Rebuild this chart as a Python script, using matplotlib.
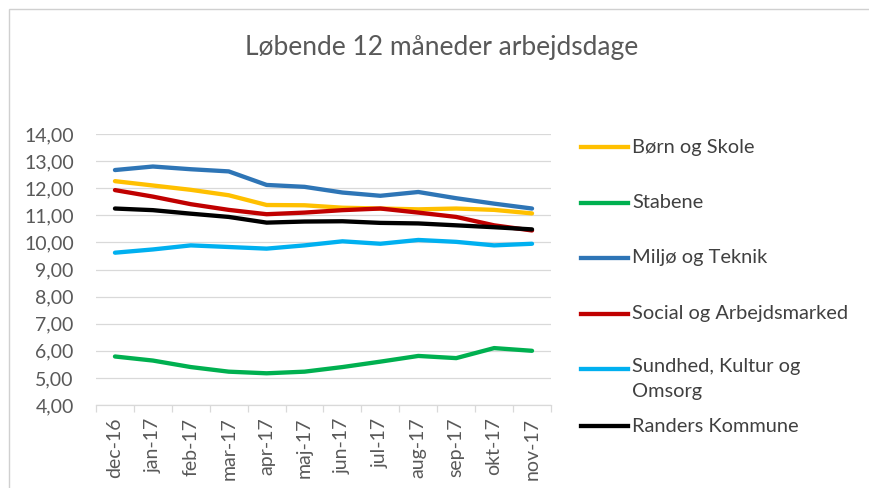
import matplotlib.pyplot as plt
import numpy as np
from matplotlib.lines import Line2D
from matplotlib.ticker import FuncFormatter

plt.rcParams['font.family'] = ['Lato', 'DejaVu Sans']

months = ['dec-16', 'jan-17', 'feb-17', 'mar-17', 'apr-17', 'maj-17',
          'jun-17', 'jul-17', 'aug-17', 'sep-17', 'okt-17', 'nov-17']

boern_skole = [12.26, 12.10, 11.94, 11.74, 11.38, 11.37, 11.28, 11.25, 11.22, 11.25, 11.20, 11.07]
stabene = [5.79, 5.64, 5.40, 5.23, 5.17, 5.23, 5.40, 5.60, 5.81, 5.73, 6.10, 6.00]
miljoe_teknik = [12.67, 12.80, 12.70, 12.62, 12.12, 12.05, 11.84, 11.72, 11.86, 11.63, 11.43, 11.25]
social_arbejd = [11.93, 11.69, 11.41, 11.20, 11.04, 11.10, 11.19, 11.25, 11.10, 10.94, 10.63, 10.44]
sundhed = [9.62, 9.74, 9.89, 9.83, 9.77, 9.89, 10.04, 9.95, 10.09, 10.02, 9.89, 9.95]
randers = [11.25, 11.19, 11.06, 10.94, 10.73, 10.77, 10.78, 10.72, 10.70, 10.63, 10.56, 10.48]

series = [
    ('Børn og Skole', boern_skole, '#FFC000'),
    ('Stabene', stabene, '#00B050'),
    ('Miljø og Teknik', miljoe_teknik, '#2E75B6'),
    ('Social og Arbejdsmarked', social_arbejd, '#C00000'),
    ('Sundhed, Kultur og\nOmsorg', sundhed, '#00B0F0'),
    ('Randers Kommune', randers, '#000000'),
]

text_col = '#595959'
grid_col = '#D9D9D9'

fig = plt.figure(figsize=(8.7, 4.88), dpi=100)
W, H = 870, 488

# chart frame (Excel chart border)
frame = plt.Rectangle((9 / W, -0.1), 1.2, (H - 9) / H + 0.1, transform=fig.transFigure,
                      facecolor='white', edgecolor='#D0D0D0', linewidth=1.0, zorder=-1)
fig.patches.append(frame)

ax = fig.add_axes([96 / W, (H - 405) / H, 455 / W, 271 / H])
ax.patch.set_alpha(0)
x = np.arange(len(months))
for name, vals, col in series:
    ax.plot(x, vals, color=col, linewidth=3.1, solid_capstyle='round', solid_joinstyle='round')

ax.set_xlim(-0.5, len(months) - 0.5)
ax.set_ylim(4, 14)
ax.set_yticks(np.arange(4, 14.01, 1))
ax.yaxis.set_major_formatter(FuncFormatter(lambda v, p: f'{v:.2f}'.replace('.', ',')))
ax.grid(axis='y', color=grid_col, linewidth=0.9)
ax.set_axisbelow(True)
for s in ['top', 'right', 'left']:
    ax.spines[s].set_visible(False)
ax.spines['bottom'].set_color(grid_col)
ax.spines['bottom'].set_linewidth(0.9)

ax.set_xticks(x)
ax.set_xticklabels(months, rotation=90)
ax.set_xticks(np.arange(-0.5, len(months)), minor=True)
ax.tick_params(axis='x', which='major', length=0, pad=9, labelsize=14, labelcolor=text_col)
ax.tick_params(axis='x', which='minor', length=5, color=grid_col, width=0.9)
ax.tick_params(axis='y', length=0, pad=16, labelsize=14, labelcolor=text_col)

fig.text(442 / W, 1 - 47 / H, 'Løbende 12 måneder arbejdsdage', ha='center', va='center',
         fontsize=19, color=text_col)

# legend drawn at the right
leg_y = [147, 203, 258, 314, 369, 426]
for (name, vals, col), yy in zip(series, leg_y):
    fy = 1 - yy / H
    fig.add_artist(Line2D([581 / W, 628 / W], [fy, fy], color=col, linewidth=3.1,
                          transform=fig.transFigure))
    if '\n' in name:
        fig.text(632 / W, fy + 11 / H, name, ha='left', va='top', fontsize=14.4,
                 color='#404040', linespacing=1.6)
    else:
        fig.text(632 / W, fy, name, ha='left', va='center', fontsize=14.4, color='#404040')

fig.savefig('out.png', dpi=100)
